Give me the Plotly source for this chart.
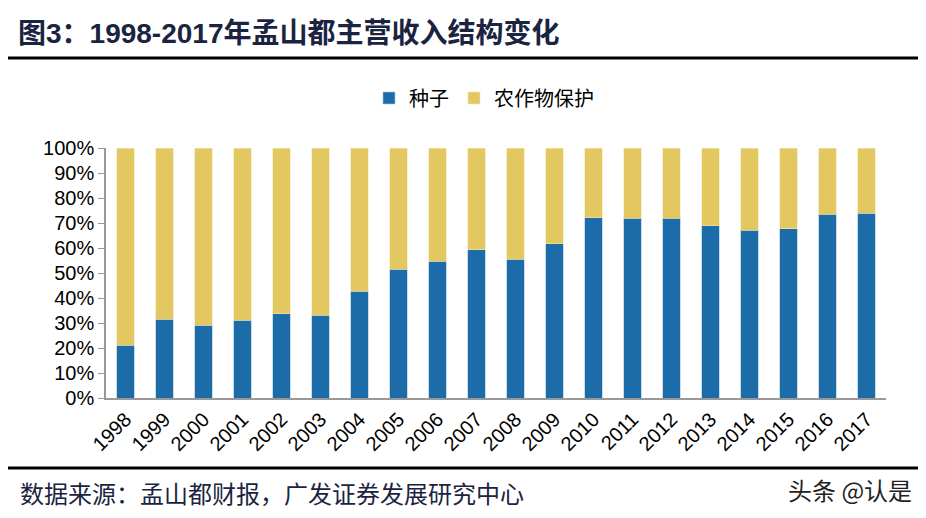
import plotly.graph_objects as go

years = [str(y) for y in range(1998, 2018)]
seed = [21.2, 31.5, 29.2, 31.1, 33.7, 33.2, 42.7, 51.5, 54.7, 59.3,
        55.6, 61.7, 72.2, 72.0, 71.9, 69.0, 67.1, 67.8, 73.5, 74.0]
crop = [100 - v for v in seed]

OFF = 8  # page body margin
W, H = 926 - OFF, 518 - OFF
L, T = 106 - OFF, 148 - OFF
R = 926 - 886
B = 518 - 398
pw, ph = W - L - R, H - T - B

def px(x):
    return (x - OFF - L) / pw

def py(y):
    return (H - B - (y - OFF)) / ph

fig = go.Figure()
fig.add_trace(go.Bar(x=years, y=seed, name="种子",
                     marker=dict(color="#1B6CA8", line=dict(width=0.6, color="#A9C4DA"))))
fig.add_trace(go.Bar(x=years, y=crop, name="农作物保护",
                     marker=dict(color="#E3C862", line=dict(width=0.6, color="#F3E6B4"))))

fig.update_layout(
    width=W, height=H,
    margin=dict(l=L, r=R, t=T, b=B),
    barmode="stack", bargap=0.56,
    paper_bgcolor="white", plot_bgcolor="white",
    font=dict(family="Liberation Sans, Arial", size=20, color="#000"),
    title=dict(text="<b>图3：1998-2017年孟山都主营收入结构变化</b>", xref="container", yref="container",
               x=(18 - OFF) / W, y=1 - (33 - OFF) / H, xanchor="left", yanchor="middle",
               font=dict(family="Liberation Sans, Noto Sans CJK SC", size=28, color="#1A2440")),
    legend=dict(orientation="h", x=px(484), y=py(98), xanchor="center", yanchor="middle",
                font=dict(family="Noto Sans CJK SC", size=20), itemwidth=30, traceorder="normal"),
    xaxis=dict(type="category", showline=True, linecolor="#999", linewidth=1.5, ticks="",
               tickangle=-45, tickfont=dict(size=20), showgrid=False),
    yaxis=dict(range=[0, 100], tickvals=list(range(0, 101, 10)),
               ticktext=[f"{v}%" for v in range(0, 101, 10)], showline=True, linecolor="#999",
               linewidth=1.5, ticks="outside", ticklen=6, tickcolor="#999", showgrid=False,
               tickfont=dict(size=20)),
    shapes=[
        dict(type="line", xref="paper", yref="paper", x0=px(8), x1=px(921), y0=py(58), y1=py(58),
             line=dict(color="black", width=3)),
        dict(type="line", xref="paper", yref="paper", x0=px(8), x1=px(921), y0=py(468), y1=py(468),
             line=dict(color="black", width=3)),
    ],
    annotations=[
        dict(text="数据来源：孟山都财报，广发证券发展研究中心", xref="paper", yref="paper",
             x=px(18), y=py(492), xanchor="left", yanchor="middle", showarrow=False,
             font=dict(family="Noto Sans CJK SC", size=24, color="#1A2440")),
        dict(text="头条 @认是", xref="paper", yref="paper",
             x=px(914), y=py(490), xanchor="right", yanchor="middle", showarrow=False,
             font=dict(family="Noto Sans CJK SC", size=24, color="#222")),
    ],
)

fig.write_html("out.html")
